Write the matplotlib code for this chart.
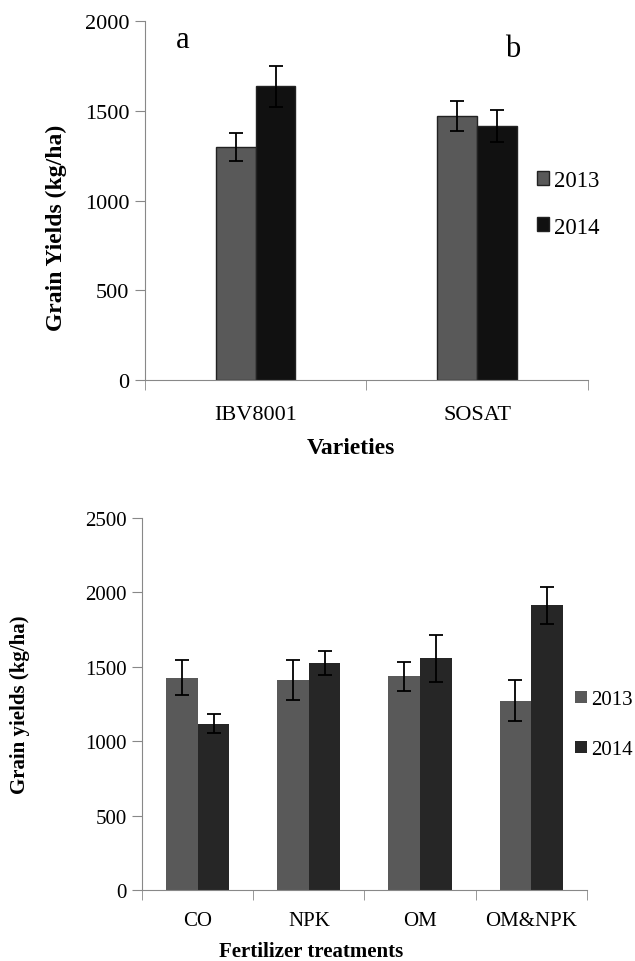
import matplotlib
matplotlib.use("Agg")
import matplotlib.pyplot as plt
import numpy as np

plt.rcParams['font.family'] = ['Liberation Serif', 'DejaVu Serif']

# grain yields by variety (kg/ha)
varieties = ["IBV8001", "SOSAT"]
var_2013 = [1300, 1470]
var_2014 = [1637, 1415]
var_err_2013 = [78, 83]
var_err_2014 = [113, 90]

# grain yields by fertilizer treatment (kg/ha)
treatments = ["CO", "NPK", "OM", "OM&NPK"]
fert_2013 = [1427, 1412, 1436, 1272]
fert_2014 = [1118, 1524, 1557, 1912]
fert_err_2013 = [117, 133, 98, 137]
fert_err_2014 = [64, 82, 160, 127]

years = ["2013", "2014"]

fig = plt.figure(figsize=(6.35, 9.62), dpi=100)
axis_grey = "#888888"


def style_axes(ax, n, ymax, step, fs, pad):
    ax.set_xlim(-0.5, n - 0.5)
    ax.set_ylim(0, ymax)
    ax.set_yticks(np.arange(0, ymax + 1, step))
    ax.set_xticks(np.arange(n))
    ax.tick_params(axis="x", which="major", length=0, labelsize=fs, pad=pad)
    # category separators
    ax.set_xticks(np.arange(n + 1) - 0.5, minor=True)
    ax.tick_params(axis="x", which="minor", length=7, color=axis_grey)
    ax.tick_params(axis="y", length=7, color=axis_grey, labelsize=fs, pad=4)
    for s in ["top", "right"]:
        ax.spines[s].set_visible(False)
    for s in ["left", "bottom"]:
        ax.spines[s].set_color(axis_grey)


ekw = dict(ecolor="black", capsize=4.8, elinewidth=1.3, capthick=1.3)
leg_kw = dict(loc="center left", frameon=False, handlelength=0.55,
              handleheight=0.55, handletextpad=0.2, borderpad=0,
              borderaxespad=0)

# top panel: varieties
ax1 = fig.add_axes([0.228, 0.604, 0.698, 0.373])
x = np.arange(len(varieties))
w = 0.18
b1 = ax1.bar(x - w / 2, var_2013, w, yerr=var_err_2013, color="#595959",
             edgecolor="#222222", linewidth=1, error_kw=ekw)
b2 = ax1.bar(x + w / 2, var_2014, w, yerr=var_err_2014, color="#111111",
             edgecolor="#222222", linewidth=1, error_kw=ekw)
style_axes(ax1, len(varieties), 2000, 500, 16, 18)
ax1.set_xticklabels(varieties)
ax1.set_ylabel("Grain Yields (kg/ha)", fontsize=17, fontweight="bold")
ax1.yaxis.set_label_coords(-0.176, 0.426)
ax1.set_xlabel("Varieties", fontsize=17, fontweight="bold")
ax1.xaxis.set_label_coords(0.465, -0.158)
ax1.text(-0.33, 1900, "a", fontsize=22, ha="center", va="center")
ax1.text(1.16, 1850, "b", fontsize=22, ha="center", va="center")
ax1.legend([b1, b2], years, bbox_to_anchor=(0.845, 0.787),
           bbox_transform=fig.transFigure, fontsize=16.5,
           labelspacing=1.1, **leg_kw)

# bottom panel: fertilizer treatments
ax2 = fig.add_axes([0.224, 0.0738, 0.700, 0.3867])
x = np.arange(len(treatments))
w = 0.284
c1 = ax2.bar(x - w / 2, fert_2013, w, yerr=fert_err_2013, color="#595959",
             error_kw=ekw)
c2 = ax2.bar(x + w / 2, fert_2014, w, yerr=fert_err_2014, color="#262626",
             error_kw=ekw)
style_axes(ax2, len(treatments), 2500, 500, 15, 15)
ax2.set_xticklabels(treatments)
ax2.set_ylabel("Grain yields (kg/ha)", fontsize=15, fontweight="bold")
ax2.yaxis.set_label_coords(-0.252, 0.5)
ax2.set_xlabel("Fertilizer treatments", fontsize=15, fontweight="bold")
ax2.xaxis.set_label_coords(0.38, -0.137)
ax2.legend([c1, c2], years, bbox_to_anchor=(0.906, 0.2455),
           bbox_transform=fig.transFigure, fontsize=15,
           labelspacing=1.5, **leg_kw)

fig.savefig("out.png", dpi=100)
